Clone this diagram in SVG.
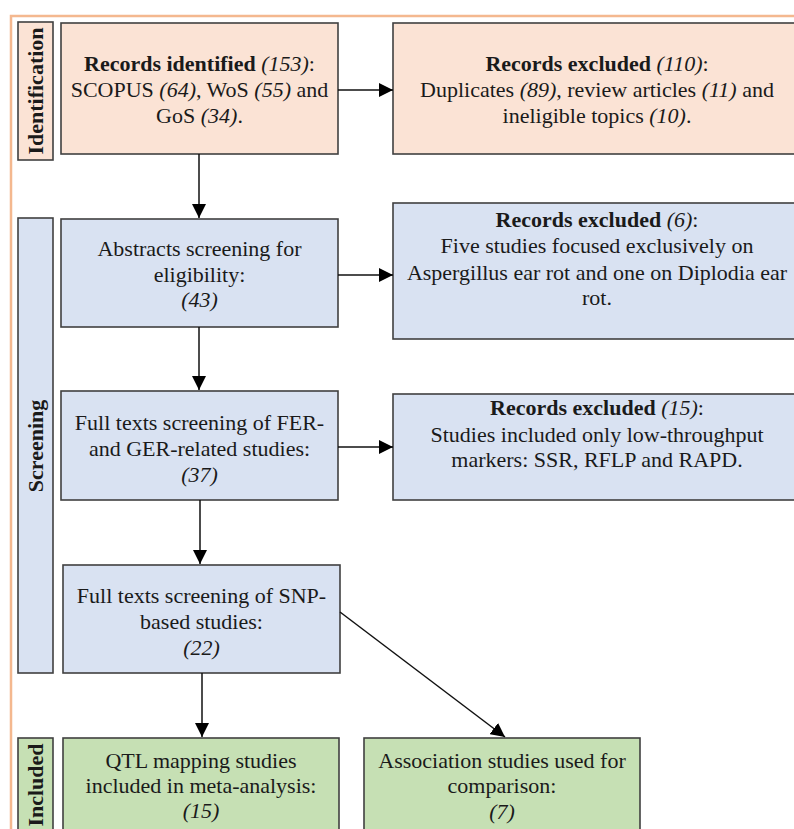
<svg xmlns="http://www.w3.org/2000/svg" width="794" height="829" viewBox="0 0 794 829">
<defs>
<marker id="ah" viewBox="0 0 14 14" refX="14" refY="7" markerWidth="14" markerHeight="14" markerUnits="userSpaceOnUse" orient="auto">
<path d="M0,0 L14,7 L0,14 Z" fill="#000"/>
</marker>
<style>
.id{fill:#fbe3d5;stroke:#404040;stroke-width:1.6}
.sc{fill:#d9e2f2;stroke:#404040;stroke-width:1.6}
.in{fill:#c6e0b4;stroke:#404040;stroke-width:1.6}
text{font-family:"Liberation Serif","Times New Roman",serif;font-size:22px;fill:#1a1a1a;text-anchor:middle}
.b{font-weight:bold}
.i{font-style:italic}
.lbl{font-weight:bold;font-size:22px}
.con{stroke:#111;stroke-width:1.5;fill:none;marker-end:url(#ah)}
</style>
</defs>
<rect width="794" height="829" fill="#ffffff"/>
<path d="M11,829 L11,16 L794,16" fill="none" stroke="#f4b88f" stroke-width="2.5"/>

<g id="stage-identification">
<rect class="id" x="18" y="22" width="35" height="138"/>
<text class="lbl" transform="translate(43,91) rotate(-90)">Identification</text>
</g>
<g id="stage-screening">
<rect class="sc" x="18" y="218" width="35" height="455"/>
<text class="lbl" transform="translate(43,446) rotate(-90)">Screening</text>
</g>
<g id="stage-included">
<rect class="in" x="18" y="738" width="35" height="120"/>
<text class="lbl" transform="translate(43,785) rotate(-90)">Included</text>
</g>

<g id="records-identified">
<rect class="id" x="61" y="23" width="277" height="131"/>
<text x="199.5" y="71"><tspan class="b">Records identified </tspan><tspan class="i">(153)</tspan>:</text>
<text x="199.5" y="97">SCOPUS <tspan class="i">(64)</tspan>, WoS <tspan class="i">(55)</tspan> and</text>
<text x="199.5" y="123">GoS <tspan class="i">(34)</tspan>.</text>
</g>
<g id="records-excluded-110">
<rect class="id" x="393" y="23" width="410" height="131"/>
<text x="597" y="71"><tspan class="b">Records excluded </tspan><tspan class="i">(110)</tspan>:</text>
<text x="597" y="97">Duplicates <tspan class="i">(89)</tspan>, review articles <tspan class="i">(11)</tspan> and</text>
<text x="597" y="123">ineligible topics <tspan class="i">(10)</tspan>.</text>
</g>

<g id="abstracts-screening">
<rect class="sc" x="61" y="219" width="277" height="108"/>
<text x="199.5" y="256">Abstracts screening for</text>
<text x="199.5" y="282">eligibility:</text>
<text x="199.5" y="307" class="i">(43)</text>
</g>
<g id="records-excluded-6">
<rect class="sc" x="393" y="203" width="410" height="136"/>
<text x="597" y="227"><tspan class="b">Records excluded </tspan><tspan class="i">(6)</tspan>:</text>
<text x="597" y="253">Five studies focused exclusively on</text>
<text x="597" y="280">Aspergillus ear rot and one on Diplodia ear</text>
<text x="597" y="305">rot.</text>
</g>

<g id="fulltext-fer-ger">
<rect class="sc" x="61" y="391" width="277" height="109"/>
<text x="199.5" y="430">Full texts screening of FER-</text>
<text x="199.5" y="456">and GER-related studies:</text>
<text x="199.5" y="482" class="i">(37)</text>
</g>
<g id="records-excluded-15">
<rect class="sc" x="393" y="394" width="410" height="106"/>
<text x="597" y="415"><tspan class="b">Records excluded </tspan><tspan class="i">(15)</tspan>:</text>
<text x="597" y="442">Studies included only low-throughput</text>
<text x="597" y="467">markers: SSR, RFLP and RAPD.</text>
</g>

<g id="fulltext-snp">
<rect class="sc" x="63" y="565" width="277" height="108"/>
<text x="201.5" y="603">Full texts screening of SNP-</text>
<text x="201.5" y="629">based studies:</text>
<text x="201.5" y="655" class="i">(22)</text>
</g>

<g id="qtl-mapping">
<rect class="in" x="63" y="738" width="276" height="120"/>
<text x="201" y="768">QTL mapping studies</text>
<text x="201" y="793">included in meta-analysis:</text>
<text x="201" y="818" class="i">(15)</text>
</g>
<g id="association-studies">
<rect class="in" x="364" y="738" width="276" height="120"/>
<text x="502" y="768">Association studies used for</text>
<text x="502" y="793">comparison:</text>
<text x="502" y="819" class="i">(7)</text>
</g>

<g id="connectors">
<line class="con" x1="338" y1="90" x2="393" y2="90"/>
<line class="con" x1="199" y1="154" x2="199" y2="218"/>
<line class="con" x1="338" y1="275" x2="393" y2="275"/>
<line class="con" x1="199" y1="327" x2="199" y2="390"/>
<line class="con" x1="338" y1="447" x2="393" y2="447"/>
<line class="con" x1="200" y1="500" x2="200" y2="564"/>
<line class="con" x1="202" y1="673" x2="202" y2="737"/>
<line class="con" x1="340" y1="612" x2="505" y2="737"/>
</g>
</svg>
